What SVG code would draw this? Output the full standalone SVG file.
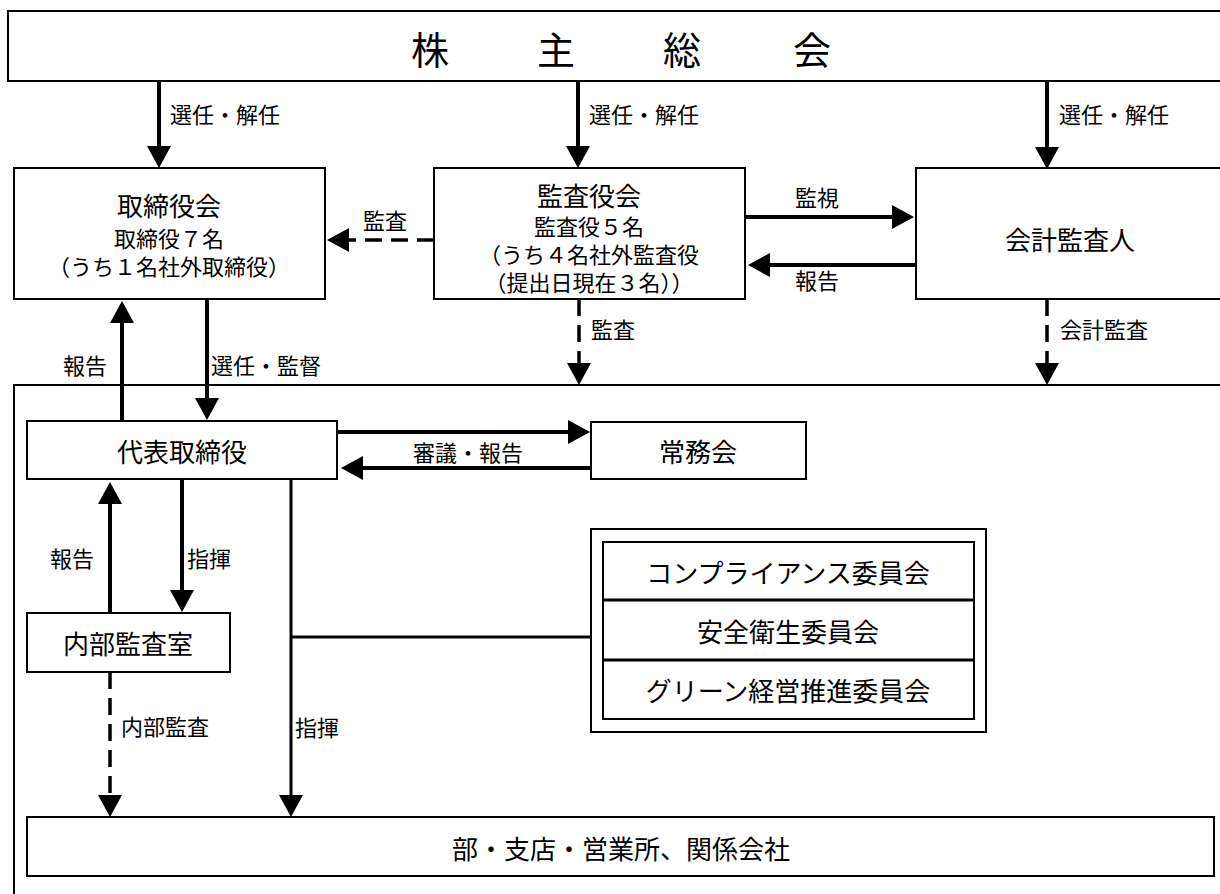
<svg xmlns="http://www.w3.org/2000/svg" width="1220" height="894" viewBox="0 0 1220 894">
<style>
.box{fill:#fff;stroke:#000;stroke-width:2}
.ln{fill:none;stroke:#000;stroke-width:4}
.dl{fill:none;stroke:#000;stroke-width:3.5;stroke-dasharray:17 9}
.pl{fill:none;stroke:#000;stroke-width:3}
.dv{fill:none;stroke:#000;stroke-width:3}
text{font-family:"Noto Sans CJK JP","Noto Sans",sans-serif;fill:#000;dominant-baseline:central}
.t{font-size:26px;text-anchor:middle}
.s{font-size:22px;text-anchor:middle}
.l{font-size:22px;text-anchor:start}
.lc{font-size:22px;text-anchor:middle}
.big{font-size:38px;text-anchor:middle}
</style>
<defs>
<marker id="ah" markerUnits="userSpaceOnUse" markerWidth="22" markerHeight="24" refX="0" refY="12" orient="auto" overflow="visible">
<path d="M0,0 L22,12 L0,24 z" fill="#000"/>
</marker>
</defs>
<rect width="1220" height="894" fill="#fff"/>
<g id="bigframe"><rect class="box" x="14" y="385" width="1240" height="540"/></g>
<g id="shareholders">
<rect class="box" x="8" y="11" width="1240" height="70"/>
<text class="big" x="430" y="47">株</text>
<text class="big" x="556" y="47">主</text>
<text class="big" x="682" y="47">総</text>
<text class="big" x="812" y="47">会</text>
</g>
<g id="board">
<rect class="box" x="14" y="168" width="311" height="131"/>
<text class="t" x="169" y="204">取締役会</text>
<text class="s" x="169" y="237">取締役７名</text>
<text class="s" x="169" y="265">（うち１名社外取締役）</text>
</g>
<g id="auditboard">
<rect class="box" x="434" y="168" width="311" height="131"/>
<text class="t" x="589" y="194">監査役会</text>
<text class="s" x="589" y="225">監査役５名</text>
<text class="s" x="589" y="253">（うち４名社外監査役</text>
<text class="s" x="589" y="281">（提出日現在３名））</text>
</g>
<g id="accountant">
<rect class="box" x="916" y="168" width="330" height="131"/>
<text class="t" x="1070" y="238">会計監査人</text>
</g>
<g id="president">
<rect class="box" x="27" y="421" width="310" height="58"/>
<text class="t" x="182" y="450">代表取締役</text>
</g>
<g id="jomukai">
<rect class="box" x="591" y="422" width="215" height="57"/>
<text class="t" x="698" y="450">常務会</text>
</g>
<g id="internalaudit">
<rect class="box" x="27" y="613" width="203" height="59"/>
<text class="t" x="128" y="642">内部監査室</text>
</g>
<g id="committees">
<rect class="box" x="591" y="529" width="395" height="203"/>
<rect class="box" x="603" y="542" width="371" height="177"/>
<line class="dv" x1="603" y1="600" x2="974" y2="600"/>
<line class="dv" x1="603" y1="660" x2="974" y2="660"/>
<text class="t" x="788" y="571">コンプライアンス委員会</text>
<text class="t" x="788" y="630">安全衛生委員会</text>
<text class="t" x="788" y="689">グリーン経営推進委員会</text>
</g>
<g id="branches">
<rect class="box" x="27" y="817" width="1187" height="59"/>
<text class="t" x="621" y="847">部・支店・営業所、関係会社</text>
</g>
<g id="connectors">
<line class="ln" x1="159" y1="81" x2="159" y2="146" marker-end="url(#ah)"/>
<line class="ln" x1="578" y1="81" x2="578" y2="146" marker-end="url(#ah)"/>
<line class="ln" x1="1047" y1="81" x2="1047" y2="147" marker-end="url(#ah)"/>
<line class="dl" x1="434" y1="240" x2="349" y2="240" marker-end="url(#ah)"/>
<line class="ln" x1="745" y1="217" x2="892" y2="217" marker-end="url(#ah)"/>
<line class="ln" x1="916" y1="265" x2="770" y2="265" marker-end="url(#ah)"/>
<line class="dl" x1="579" y1="299" x2="579" y2="363" marker-end="url(#ah)"/>
<line class="dl" x1="1047" y1="299" x2="1047" y2="363" marker-end="url(#ah)"/>
<line class="ln" x1="122" y1="421" x2="122" y2="323" marker-end="url(#ah)"/>
<line class="ln" x1="207" y1="299" x2="207" y2="398" marker-end="url(#ah)"/>
<line class="ln" x1="337" y1="432" x2="568" y2="432" marker-end="url(#ah)"/>
<line class="ln" x1="591" y1="468" x2="363" y2="468" marker-end="url(#ah)"/>
<line class="ln" x1="182" y1="479" x2="182" y2="590" marker-end="url(#ah)"/>
<line class="ln" x1="110" y1="613" x2="110" y2="504" marker-end="url(#ah)"/>
<line class="dl" x1="110" y1="672" x2="110" y2="795" marker-end="url(#ah)"/>
<line class="pl" x1="291" y1="479" x2="291" y2="795" marker-end="url(#ah)"/>
<line class="pl" x1="291" y1="637" x2="591" y2="637"/>
<text class="l" x="170" y="113">選任・解任</text>
<text class="l" x="589" y="113">選任・解任</text>
<text class="l" x="1059" y="113">選任・解任</text>
<text class="lc" x="385" y="219">監査</text>
<text class="lc" x="817" y="196">監視</text>
<text class="lc" x="817" y="279">報告</text>
<text class="l" x="591" y="328">監査</text>
<text class="l" x="1060" y="328">会計監査</text>
<text class="lc" x="85" y="364">報告</text>
<text class="l" x="211" y="364">選任・監督</text>
<text class="lc" x="468" y="451">審議・報告</text>
<text class="lc" x="72" y="557">報告</text>
<text class="l" x="187" y="557">指揮</text>
<text class="l" x="121" y="725">内部監査</text>
<text class="l" x="295" y="726">指揮</text>
</g>
</svg>
